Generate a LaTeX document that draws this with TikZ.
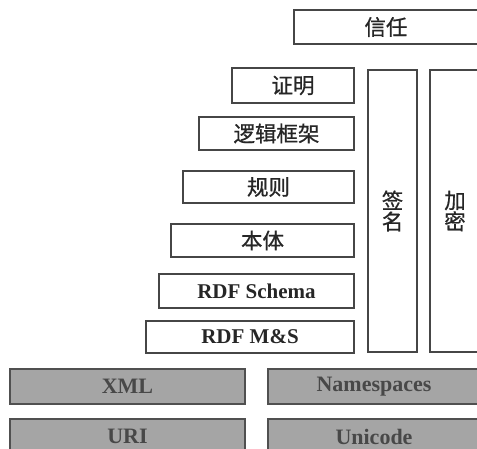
\documentclass[tikz,border=0pt]{standalone}
\usepackage{fontspec}
\setmainfont{Liberation Serif}
\newfontfamily\cjk[FakeBold=0.7]{Noto Sans CJK SC}
\definecolor{boxline}{RGB}{70,70,70}
\definecolor{grayfill}{RGB}{165,165,165}
\definecolor{graytext}{RGB}{72,72,72}
\definecolor{grayline}{RGB}{80,80,80}
\tikzset{
  layer/.style={draw=boxline, line width=1.2pt, fill=white, inner sep=0pt, outer sep=0pt, text=black!85},
  cjklayer/.style={layer, font=\cjk\fontsize{21.5}{23}\selectfont},
  latinlayer/.style={layer, font=\bfseries\fontsize{21}{23}\selectfont},
  base/.style={draw=grayline, line width=1.2pt, fill=grayfill, inner sep=0pt, outer sep=0pt, text=graytext, font=\bfseries\fontsize{22}{24}\selectfont},
}
\begin{document}
\begin{tikzpicture}[x=1pt,y=-1pt]
\useasboundingbox (0,0) rectangle (477,449);
\clip (0,0) rectangle (477,449);
\node[cjklayer, minimum width=184pt, minimum height=34pt] (trust) at (386,27) {信任};
\node[cjklayer, minimum width=122pt, minimum height=35pt] (proof) at (293,85.5) {证明};
\node[cjklayer, minimum width=155pt, minimum height=33pt] (logic) at (276.5,133.5) {逻辑框架};
\node[cjklayer, minimum width=171pt, minimum height=32pt] (rules) at (268.5,187) {规则};
\node[cjklayer, minimum width=183pt, minimum height=33pt] (onto) at (262.5,240.5) {本体};
\node[latinlayer, minimum width=195pt, minimum height=34pt] (rdfs) at (256.5,291) {RDF Schema};
\node[latinlayer, minimum width=208pt, minimum height=32pt] (rdfms) at (250,337) {RDF M\&S};
\node[cjklayer, minimum width=49pt, minimum height=282pt, align=center] (sig) at (392.5,211) {签\\[-2pt]名};
\node[cjklayer, minimum width=50pt, minimum height=282pt, align=center] (enc) at (455,211) {加\\[-2pt]密};
\node[base, minimum width=235pt, minimum height=35pt] (xml) at (127.5,386.5) {XML};
\node[base, minimum width=212pt, minimum height=35pt] (ns) at (374,386.5) {Namespaces};
\node[base, minimum width=235pt, minimum height=35pt] (uri) at (127.5,436.5) {URI};
\node[base, minimum width=212pt, minimum height=35pt] (uni) at (374,436.5) {Unicode};
\end{tikzpicture}
\end{document}
